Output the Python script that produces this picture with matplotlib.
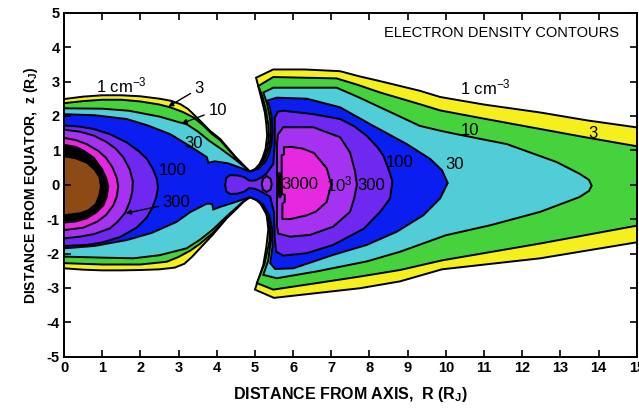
import matplotlib.pyplot as plt
import numpy as np

plt.rcParams['font.family'] = 'Liberation Sans'
plt.rcParams['mathtext.fontset'] = 'custom'
plt.rcParams['mathtext.rm'] = 'Liberation Sans'
plt.rcParams['mathtext.it'] = 'Liberation Sans:italic'
plt.rcParams['mathtext.bf'] = 'Liberation Sans:bold'
plt.rcParams['axes.unicode_minus'] = False

# electron density contours in the meridian plane (R, z in R_J)
# open levels are traced along their upper and lower edges, from the axis outward

# 1 cm^-3
n1_top_R = [0.0, 0.5, 1.0, 1.5, 2.0, 2.5, 2.8, 3.05, 3.25, 3.5, 3.82, 4.09, 4.5, 4.72, 4.87,
            5.0, 5.12, 5.2, 5.28, 5.32, 5.3, 5.26, 5.13, 5.03, 5.48, 6.3, 7.23, 7.7, 8.28,
            9.32, 9.85, 11.0, 12.47, 13.7, 15.3]
n1_top_z = [2.49, 2.56, 2.60, 2.60, 2.57, 2.50, 2.44, 2.34, 2.20, 1.93, 1.57, 1.33, 0.80, 0.55, 0.38,
            0.45, 0.60, 0.78, 1.05, 1.42, 1.75, 2.10, 2.68, 3.11, 3.35, 3.35, 3.30, 3.16, 3.01,
            2.73, 2.55, 2.33, 2.10, 1.87, 1.62]
n1_bot_R = [0.0, 0.5, 1.0, 1.5, 2.0, 2.5, 2.9, 3.15, 3.35, 3.56, 3.9, 4.26, 4.5, 4.7, 4.87,
            5.08, 5.22, 5.31, 5.35, 5.3, 5.22, 5.0, 5.5, 6.62, 7.75, 8.8, 9.9, 12.47, 15.3]
n1_bot_z = [-2.43, -2.47, -2.49, -2.49, -2.48, -2.46, -2.41, -2.30, -2.10, -1.85, -1.45, -0.98, -0.72, -0.50, -0.36,
            -0.45, -0.62, -0.88, -1.30, -1.80, -2.33, -3.05, -3.29, -3.15, -3.01, -2.81, -2.46, -2.14, -1.62]

# 3 cm^-3
n3_top_R = [0.0, 0.5, 1.0, 1.5, 2.0, 2.5, 2.78, 3.1, 3.4, 3.65, 3.85, 4.1, 4.5, 4.72, 4.87,
            5.03, 5.15, 5.24, 5.32, 5.37, 5.35, 5.28, 5.2, 5.09, 5.48, 6.3, 7.14, 7.7, 8.28,
            9.32, 9.85, 11.0, 12.47, 13.7, 15.3]
n3_top_z = [2.37, 2.43, 2.47, 2.47, 2.42, 2.33, 2.25, 2.12, 1.95, 1.72, 1.50, 1.28, 0.78, 0.54, 0.38,
            0.46, 0.62, 0.80, 1.05, 1.40, 1.75, 2.20, 2.55, 2.87, 3.13, 3.11, 3.09, 2.90, 2.68,
            2.34, 2.16, 1.92, 1.62, 1.37, 1.06]
n3_bot_R = [0.0, 1.0, 2.0, 2.69, 3.0, 3.3, 3.56, 3.9, 4.26, 4.5, 4.7, 4.87,
            5.03, 5.15, 5.3, 5.38, 5.38, 5.25, 5.05, 5.48, 6.62, 7.75, 8.8, 9.9, 12.47, 15.3]
n3_bot_z = [-2.28, -2.32, -2.32, -2.24, -2.10, -1.92, -1.72, -1.40, -0.96, -0.71, -0.49, -0.36,
            -0.44, -0.56, -0.86, -1.25, -1.65, -2.30, -2.86, -3.05, -2.86, -2.67, -2.48, -2.20, -1.71, -1.13]

# 10 cm^-3
n10_top_R = [0.0, 1.0, 1.7, 2.5, 3.0, 3.21, 3.5, 3.8, 4.1, 4.5, 4.72, 4.87,
             5.06, 5.2, 5.3, 5.38, 5.42, 5.4, 5.32, 5.22, 5.48, 7.14, 7.7, 8.28, 9.32,
             9.85, 10.28, 11.6, 12.9, 13.5, 13.75, 13.82]
n10_top_z = [2.22, 2.21, 2.15, 1.98, 1.82, 1.76, 1.55, 1.28, 1.05, 0.72, 0.52, 0.38,
             0.47, 0.64, 0.85, 1.10, 1.45, 1.90, 2.35, 2.68, 2.82, 2.82, 2.55, 2.25, 1.71,
             1.57, 1.47, 1.18, 0.66, 0.32, 0.14, -0.03]
n10_bot_R = [0.0, 1.0, 1.82, 2.5, 3.21, 3.56, 3.9, 4.26, 4.5, 4.7, 4.87,
             5.05, 5.2, 5.33, 5.4, 5.42, 5.35, 5.22, 5.57, 6.62, 7.93, 8.8, 10.0,
             11.16, 12.47, 13.5, 13.75, 13.82]
n10_bot_z = [-2.09, -2.12, -2.14, -2.05, -1.85, -1.60, -1.30, -0.92, -0.68, -0.48, -0.36,
             -0.45, -0.60, -0.88, -1.20, -1.60, -2.20, -2.62, -2.72, -2.52, -2.23, -1.95, -1.47,
             -1.18, -0.79, -0.36, -0.18, -0.03]

# 30 cm^-3
n30_top_R = [0.0, 0.8, 1.64, 2.2, 2.78, 3.3, 3.74, 3.78, 3.95, 4.3, 4.6, 4.87,
             5.08, 5.25, 5.36, 5.43, 5.46, 5.44, 5.38, 5.31, 5.57, 6.36, 7.23, 8.1,
             8.98, 9.59, 9.9, 10.05]
n30_top_z = [2.05, 2.02, 1.91, 1.72, 1.47, 1.12, 0.80, 0.64, 0.68, 0.62, 0.50, 0.38,
             0.46, 0.63, 0.86, 1.15, 1.50, 1.95, 2.30, 2.44, 2.53, 2.50, 2.25, 1.71,
             1.18, 0.75, 0.42, 0.05]
n30_bot_R = [0.0, 0.8, 1.64, 2.3, 2.95, 3.3, 3.74, 3.88, 3.91, 4.1, 4.5, 4.87,
             5.05, 5.22, 5.38, 5.45, 5.46, 5.4, 5.53, 6.01, 7.05, 7.93, 8.71, 9.41, 9.85, 10.05]
n30_bot_z = [-1.85, -1.78, -1.61, -1.40, -1.08, -0.80, -0.55, -0.56, -0.72, -0.64, -0.50, -0.36,
             -0.44, -0.58, -0.90, -1.30, -1.80, -2.28, -2.45, -2.43, -2.04, -1.75, -1.37, -0.89, -0.40, 0.05]

n100_in_R = [0.0, 0.4, 0.77, 1.2, 1.64, 1.95, 2.17, 2.33, 2.43, 2.46, 2.42, 2.32, 2.17, 1.9, 1.47, 1.0, 0.59, 0.0]
n100_in_z = [1.72, 1.69, 1.62, 1.47, 1.23, 0.98, 0.75, 0.45, 0.17, -0.08, -0.35, -0.65, -0.95, -1.25, -1.52, -1.68, -1.75, -1.78]
n300_in_R = [0.0, 0.42, 0.77, 1.1, 1.35, 1.55, 1.72, 1.8, 1.79, 1.72, 1.6, 1.4, 1.2, 0.8, 0.42, 0.0]
n300_in_z = [1.60, 1.54, 1.43, 1.25, 1.05, 0.80, 0.45, 0.10, -0.20, -0.50, -0.82, -1.08, -1.27, -1.43, -1.51, -1.56]
n1000_in_R = [0.0, 0.3, 0.59, 0.9, 1.1, 1.27, 1.38, 1.42, 1.38, 1.29, 1.1, 0.86, 0.5, 0.0]
n1000_in_z = [1.36, 1.30, 1.18, 0.98, 0.78, 0.50, 0.20, -0.05, -0.35, -0.60, -0.88, -1.08, -1.25, -1.32]
n3000_in_R = [0.0, 0.3, 0.51, 0.78, 0.99, 1.1, 1.16, 1.12, 1.03, 0.85, 0.59, 0.3, 0.0]
n3000_in_z = [1.16, 1.10, 0.99, 0.78, 0.46, 0.20, -0.05, -0.35, -0.60, -0.80, -0.98, -1.07, -1.10]
jupiter_R = [0.0, 0.3, 0.59, 0.78, 0.9, 0.94, 0.9, 0.81, 0.62, 0.42, 0.0]
jupiter_z = [0.80, 0.74, 0.61, 0.42, 0.22, -0.05, -0.30, -0.55, -0.72, -0.80, -0.86]

# closed levels of the outer torus
n100_out_R = [4.22, 4.25, 4.35, 4.55, 4.72, 4.85, 5.0, 5.15, 5.3, 5.48, 5.52, 5.52, 5.6, 5.74,
              6.53, 7.23, 7.6, 7.93, 8.2, 8.36, 8.5, 8.6, 8.54, 8.28, 7.85, 7.05, 6.36, 5.74,
              5.56, 5.52, 5.5, 5.4, 5.2, 5.0, 4.85, 4.72, 4.55, 4.35, 4.25]
n100_out_z = [0.0, 0.20, 0.28, 0.27, 0.22, 0.12, 0.12, 0.20, 0.32, 0.60, 1.20, 1.95, 2.12, 2.15,
              2.05, 1.91, 1.70, 1.42, 1.10, 0.85, 0.45, 0.10, -0.40, -0.79, -1.28, -1.75, -1.99, -2.06,
              -1.95, -1.60, -0.80, -0.35, -0.22, -0.12, -0.10, -0.20, -0.26, -0.27, -0.19]
n300_out_R = [5.58, 5.6, 5.74, 6.53, 7.23, 7.49, 7.62, 7.67, 7.6, 7.49, 7.05, 6.44, 5.92, 5.61, 5.58]
n300_out_z = [1.20, 1.45, 1.67, 1.67, 1.38, 0.94, 0.40, 0.0, -0.40, -0.79, -1.22, -1.46, -1.51, -1.42, -1.20]
ring_R = [5.18, 5.21, 5.31, 5.41, 5.44, 5.41, 5.31, 5.21]
ring_z = [0.02, 0.17, 0.25, 0.17, 0.02, -0.14, -0.21, -0.14]
n1000_out_R = [5.7, 5.7, 5.76, 5.76, 5.95, 6.25, 6.55, 6.88, 7.0, 6.88, 6.6, 6.36, 5.92, 5.72, 5.72, 5.78, 5.78, 5.7]
n1000_out_z = [-0.2, 0.85, 0.88, 1.09, 1.10, 1.05, 0.92, 0.48, 0.0, -0.50, -0.78, -0.89, -1.0, -1.0, -0.55, -0.50, -0.30, -0.25]
n3000_out_R = [5.64, 5.69, 5.71, 5.70, 5.65, 5.60, 5.58, 5.60]
n3000_out_z = [0.35, 0.25, 0.0, -0.28, -0.38, -0.28, 0.0, 0.25]

band_colors = {
    1: '#f5ef1e',
    3: '#46d23c',
    10: '#50cdd7',
    30: '#0a1ef0',
    100: '#6e28f0',
    300: '#a532f0',
    1000: '#e628e1',
    3000: 'black',
}

# contour labels (text, R, z)
label_text = ['30', '100', '3000', '10$^{\\mathregular{3}}$', '300', '100', '30', '10', '3']
label_R = [3.40, 2.85, 6.18, 7.22, 8.05, 8.80, 10.23, 10.63, 13.85]
label_z = [1.20, 0.40, 0.00, 0.02, -0.03, 0.65, 0.60, 1.58, 1.50]

# labels with a leader to their contour: text, text position, leader tip
leader_text = ['3', '10', '300']
leader_text_R = [3.54, 4.02, 2.95]
leader_text_z = [2.80, 2.17, -0.52]
leader_tip_R = [2.73, 3.08, 1.62]
leader_tip_z = [2.27, 1.78, -0.83]


def outline(top_R, top_z, bot_R, bot_z):
    return np.r_[top_R, bot_R[::-1]], np.r_[top_z, bot_z[::-1]]


fig = plt.figure(figsize=(6.39, 4.11), dpi=100)
ax = fig.add_axes([0.1002, 0.1321, 0.8962, 0.8370])

edge = dict(edgecolor='black', linewidth=1.4)
ax.fill(*outline(n1_top_R, n1_top_z, n1_bot_R, n1_bot_z), facecolor=band_colors[1], **edge)
ax.fill(*outline(n3_top_R, n3_top_z, n3_bot_R, n3_bot_z), facecolor=band_colors[3], **edge)
ax.fill(*outline(n10_top_R, n10_top_z, n10_bot_R, n10_bot_z), facecolor=band_colors[10], **edge)
ax.fill(*outline(n30_top_R, n30_top_z, n30_bot_R, n30_bot_z), facecolor=band_colors[30], **edge)

ax.fill(n100_in_R, n100_in_z, facecolor=band_colors[100], **edge)
ax.fill(n100_out_R, n100_out_z, facecolor=band_colors[100], **edge)
ax.fill(n300_in_R, n300_in_z, facecolor=band_colors[300], **edge)
ax.fill(n300_out_R, n300_out_z, facecolor=band_colors[300], **edge)
ax.fill(ring_R, ring_z, facecolor=band_colors[300], **edge)
ax.fill(n1000_in_R, n1000_in_z, facecolor=band_colors[1000], **edge)
ax.fill(n1000_out_R, n1000_out_z, facecolor=band_colors[1000], **edge)
ax.fill(n3000_in_R, n3000_in_z, facecolor=band_colors[3000], **edge)
ax.fill(n3000_out_R, n3000_out_z, facecolor=band_colors[3000], **edge)
ax.fill(jupiter_R, jupiter_z, facecolor='#8c4b14', edgecolor='none')

for txt, r, z in zip(label_text, label_R, label_z):
    ax.text(r, z, txt, ha='center', va='center', fontsize=12)

for txt, r, z, tr, tz in zip(leader_text, leader_text_R, leader_text_z, leader_tip_R, leader_tip_z):
    ax.annotate(txt, xy=(tr, tz), xytext=(r, z), ha='center', va='center', fontsize=12,
                arrowprops=dict(arrowstyle='-|>', color='black', lw=1.0,
                                mutation_scale=7, shrinkA=1, shrinkB=0))

# the "1 cm^-3" labels for the outermost contour
ax.annotate('1 cm$^{\\mathregular{-3}}$', xy=(0.93, 2.60), xytext=(0.85, 2.68),
            ha='left', va='baseline', fontsize=12,
            arrowprops=dict(arrowstyle='-', color='#7a1010', lw=1.2, shrinkA=0, shrinkB=0,
                            relpos=(0.05, 0.0)))
ax.text(10.37, 2.62, '1 cm$^{\\mathregular{-3}}$', ha='left', va='baseline', fontsize=12)

ax.text(11.46, 4.40, 'ELECTRON DENSITY CONTOURS', ha='center', va='center', fontsize=10.5)

ax.set_xlim(0, 15)
ax.set_ylim(-5, 5)
ax.set_xticks(range(0, 16))
ax.set_yticks(range(-5, 6))
ax.tick_params(direction='in', length=5, width=1.2, top=True, right=True,
               labelsize=10.5, pad=3)
for lab in ax.get_xticklabels() + ax.get_yticklabels():
    lab.set_fontweight('bold')
for sp in ax.spines.values():
    sp.set_linewidth(1.4)

ax.set_xlabel('DISTANCE FROM AXIS,  R (R$_{\\mathregular{J}}$)', fontsize=11.5,
              fontweight='bold', labelpad=7)
ax.set_ylabel('DISTANCE FROM EQUATOR,  z (R$_{\\mathregular{J}}$)', fontsize=10,
              fontweight='bold', labelpad=5)

fig.savefig('out.png', dpi=100)
